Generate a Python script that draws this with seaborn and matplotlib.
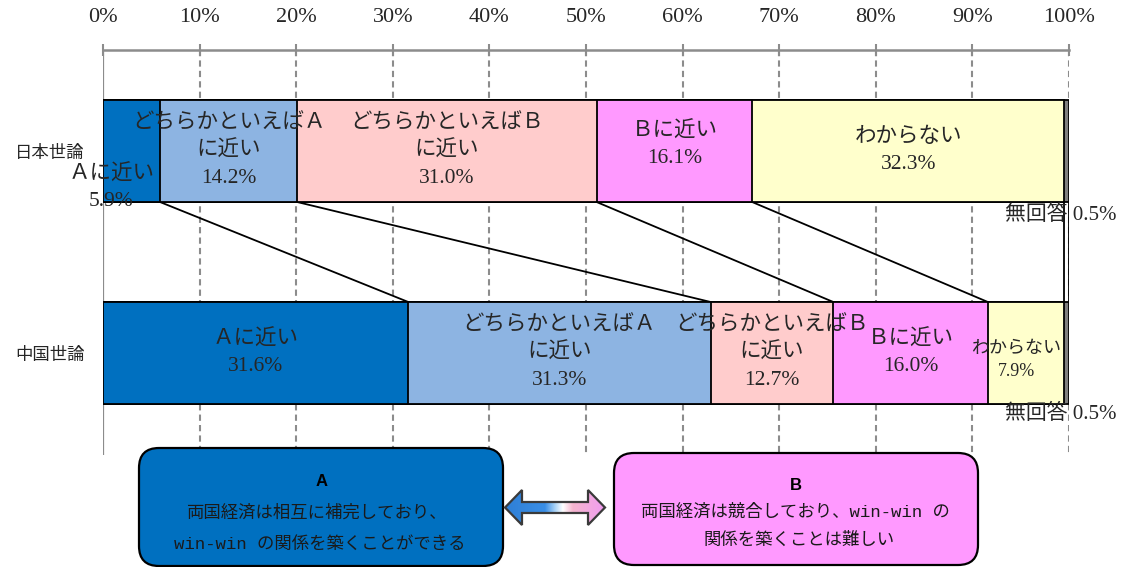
import numpy as np
import pandas as pd
import matplotlib
matplotlib.use("Agg")
import matplotlib.pyplot as plt
import seaborn as sns
from matplotlib.patches import FancyBboxPatch, Polygon
from matplotlib.colors import LinearSegmentedColormap

# ---------------- data ----------------
groups = ["日本世論", "中国世論"]
categories = ["Ａに近い", "どちらかといえばＡに近い", "どちらかといえばＢに近い",
              "Ｂに近い", "わからない", "無回答"]
display_names = ["Ａに近い", "どちらかといえばＡ\nに近い", "どちらかといえばＢ\nに近い",
                 "Ｂに近い", "わからない", "無回答"]
japan = [5.9, 14.2, 31.0, 16.1, 32.3, 0.5]
china = [31.6, 31.3, 12.7, 16.0, 7.9, 0.5]
colors = ["#0070C0", "#8DB4E2", "#FFCCCC", "#FF99FF", "#FFFFCC", "#7F7F7F"]
tick_values = list(range(0, 101, 10))
tick_labels = [f"{v}%" for v in tick_values]

box_a_title = "A"
box_a_lines = ["両国経済は相互に補完しており、", "win-win の関係を築くことができる"]
box_b_title = "B"
box_b_lines = ["両国経済は競合しており、win-win の", "関係を築くことは難しい"]

# ---------------- style ----------------
sns.set_style("white")
plt.rcParams["font.family"] = ["Noto Sans CJK JP", "DejaVu Sans"]
SERIF = ["Liberation Serif", "Noto Sans CJK JP"]
MONO = ["Liberation Mono", "Noto Sans CJK JP"]
TXT = "#262626"
GRID = "#8c8c8c"

W, H = 1126, 567
fig = plt.figure(figsize=(W / 100, H / 100), dpi=100)
ax = fig.add_axes([103 / W, 0, 966 / W, 1])

ROW_PX = 202  # pixel distance between the two bar rows


def py(px):
    """pixel row -> categorical y coordinate (row 0 at px 151)"""
    return (px - 151) / ROW_PX


bar_w = 0.505

df = pd.DataFrame({
    "group": np.repeat(groups, len(categories)),
    "category": categories * len(groups),
    "value": japan + china,
})
df["cum"] = df.groupby("group", sort=False)["value"].cumsum()

# stacked bars via overlaid cumulative bars (largest first)
for cat, col in reversed(list(zip(categories, colors))):
    sub = df[df["category"] == cat]
    sns.barplot(data=sub, x="cum", y="group", order=groups, orient="h",
                color=col, saturation=1, edgecolor="black", linewidth=1.3,
                width=bar_w, errorbar=None, ax=ax, zorder=2)

# connecting lines between the two bars
cum_j = np.cumsum(japan)
cum_c = np.cumsum(china)
for xj, xc in zip(cum_j, cum_c):
    ax.plot([xj, xc], [0 + bar_w / 2, 1 - bar_w / 2], color="black", lw=1.3, zorder=1)

# grid lines
ax.vlines(tick_values[1:], py(50), py(455), colors=GRID, linestyles=(0, (3, 2)),
          lw=1.5, zorder=0)
ax.vlines(0, py(50), py(455), colors=GRID, lw=1.6, zorder=0)

# segment labels (each line drawn as its own text)
special = {  # (row, idx): (dx, dy, fontsize)
    (0, 0): (-2.1, 0.183, 15.5),
    (0, 3): (0, -0.03, 15.5),
    (1, 4): (-1.0, 0.035, 13),
}
LINE_STEP = 27.5 / ROW_PX
for r, vals in enumerate([japan, china]):
    starts = np.concatenate([[0], np.cumsum(vals)[:-1]])
    for i, (v, s) in enumerate(zip(vals, starts)):
        if i == len(vals) - 1:
            ax.text(99.1, r + (py(215) if r == 0 else py(414) - 1),
                    f"{display_names[i]} {v}%", ha="center", va="center",
                    fontsize=15, family=SERIF, color=TXT, clip_on=False, zorder=5)
            continue
        dx, dy, fs = special.get((r, i), (0, 0, 15.5))
        lines = f"{display_names[i]}\n{v:.1f}%".split("\n")
        n = len(lines)
        step = LINE_STEP * fs / 15.5
        for k, line in enumerate(lines):
            ax.text(s + v / 2 + dx, r + dy + (k - (n - 1) / 2) * step, line,
                    ha="center", va="center", fontsize=fs, family=SERIF, color=TXT,
                    zorder=5)

# axes cosmetics
ax.set_xlim(0, 100)
ax.set_ylim(py(H), py(0))
ax.set_xlabel("")
ax.set_ylabel("")
ax.set_xticks(tick_values, tick_labels)
ax.xaxis.set_ticks_position("top")
ax.tick_params(axis="x", top=True, bottom=False, labeltop=True, labelbottom=False,
               direction="inout", length=8.6, width=1.5, color=GRID, pad=12,
               labelsize=16, labelcolor=TXT, labelfontfamily="Liberation Serif")
ax.tick_params(axis="y", length=0, pad=13, labelsize=12.5, labelcolor=TXT)
for s in ["left", "right", "bottom"]:
    ax.spines[s].set_visible(False)
ax.spines["top"].set_position(("data", py(50)))
ax.spines["top"].set_color(GRID)
ax.spines["top"].set_linewidth(1.8)
ax.patch.set_alpha(0)

# ---------------- overlay for the explanation boxes ----------------
ov = fig.add_axes([0, 0, 1, 1])
ov.set_xlim(0, W)
ov.set_ylim(H, 0)
ov.axis("off")
ov.patch.set_alpha(0)

ov.add_patch(FancyBboxPatch((139, 448), 364, 118, boxstyle="round,pad=0,rounding_size=20",
                            fc="#0070C0", ec="black", lw=1.6))
ov.add_patch(FancyBboxPatch((614, 453), 364, 112, boxstyle="round,pad=0,rounding_size=20",
                            fc="#FF99FF", ec="black", lw=1.6))

ov.text(322, 482, box_a_title, ha="center", va="center", fontsize=12,
        family="Liberation Sans", weight="bold", color="black")
ov.text(316, 512, box_a_lines[0], ha="center", va="center", fontsize=12.5, family=MONO, color="#1a1a1a")
ov.text(320, 544, box_a_lines[1], ha="center", va="center", fontsize=12.5, family=MONO, color="#1a1a1a")
ov.text(796, 485, box_b_title, ha="center", va="center", fontsize=12,
        family="Liberation Sans", weight="bold", color="black")
ov.text(795, 512, box_b_lines[0], ha="center", va="center", fontsize=12.5, family=MONO, color="#1a1a1a")
ov.text(799, 540, box_b_lines[1], ha="center", va="center", fontsize=12.5, family=MONO, color="#1a1a1a")

# double arrow with gradient fill
pts = [(505, 507.5), (522, 490), (522, 502), (588, 502), (588, 490), (605, 507.5),
       (588, 525), (588, 513), (522, 513), (522, 525)]
arrow = Polygon(pts, closed=True, fc="none", ec="#3a3a3a", lw=1.6, zorder=4)
ov.add_patch(arrow)
cmap = LinearSegmentedColormap.from_list(
    "ab", [(0, "#2E7FD6"), (0.4, "#3A8EE6"), (0.5, "#A8D2F6"), (0.58, "#FFFFFF"),
           (0.68, "#F5B5CF"), (1, "#F09CF0")])
grad = np.linspace(0, 1, 256).reshape(1, -1)
im = ov.imshow(grad, cmap=cmap, extent=[505, 605, 525, 490], aspect="auto", zorder=3,
               interpolation="bilinear")
im.set_clip_path(arrow)
ov.set_xlim(0, W)
ov.set_ylim(H, 0)

fig.savefig("out.png", dpi=100)
